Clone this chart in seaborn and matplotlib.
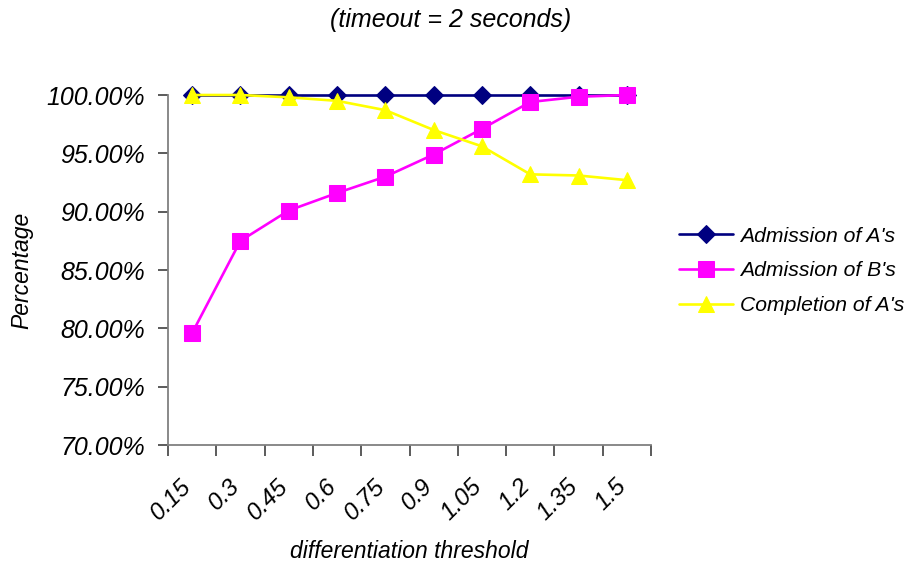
import matplotlib
matplotlib.use("Agg")
import matplotlib.pyplot as plt
import matplotlib.transforms as mtransforms
import seaborn as sns
import pandas as pd
import numpy as np
from matplotlib.ticker import FixedLocator, FuncFormatter

thresholds = ["0.15", "0.3", "0.45", "0.6", "0.75", "0.9", "1.05", "1.2", "1.35", "1.5"]
admission_a = [100.0, 100.0, 100.0, 100.0, 100.0, 100.0, 100.0, 100.0, 100.0, 100.0]
admission_b = [79.6, 87.5, 90.1, 91.6, 93.0, 94.9, 97.1, 99.4, 99.85, 100.0]
completion_a = [100.0, 100.0, 99.8, 99.5, 98.7, 97.0, 95.6, 93.2, 93.1, 92.7]
series_names = ["Admission of A's", "Admission of B's", "Completion of A's"]

sns.set_theme(style="white")
plt.rcParams['font.family'] = ['Liberation Sans', 'DejaVu Sans']
plt.rcParams['text.color'] = 'black'
plt.rcParams['axes.labelcolor'] = 'black'
plt.rcParams['xtick.color'] = 'black'
plt.rcParams['ytick.color'] = 'black'

rows = []
for name, vals in zip(series_names, [admission_a, admission_b, completion_a]):
    for i, v in enumerate(vals):
        rows.append({"x": i, "threshold": thresholds[i], "value": v, "series": name})
df = pd.DataFrame(rows)

fig = plt.figure(figsize=(9.1, 5.65), dpi=100)
ax = fig.add_axes([168/910, 1-445/565, (651-168)/910, (445-95)/565])

palette = {series_names[0]: "#000080", series_names[1]: "#FF00FF", series_names[2]: "#FFFF00"}
markers = {series_names[0]: "D", series_names[1]: "s", series_names[2]: "^"}
sizes = {series_names[0]: 9, series_names[1]: 11.5, series_names[2]: 11.5}

for name in series_names:
    sub = df[df.series == name]
    sns.lineplot(data=sub, x="x", y="value", ax=ax, color=palette[name], marker=markers[name],
                 markersize=sizes[name], markeredgecolor=palette[name], linewidth=1.9,
                 label=name, clip_on=False, zorder=3)

ax.set_xlim(-0.5, 9.5)
ax.set_ylim(70, 100)
ax.yaxis.set_major_locator(FixedLocator(np.arange(70, 100.1, 5)))
ax.yaxis.set_major_formatter(FuncFormatter(lambda v, p: f"{v:.2f}%"))

ax.xaxis.set_major_locator(FixedLocator(np.arange(-0.5, 9.6, 1)))
ax.xaxis.set_major_formatter(FuncFormatter(lambda v, p: ""))
ax.set_xticks(np.arange(0, 10), labels=thresholds, minor=True)

for s in ["top", "right"]:
    ax.spines[s].set_visible(False)
for s in ["left", "bottom"]:
    ax.spines[s].set_color("#808080")
    ax.spines[s].set_linewidth(1.3)

ax.tick_params(axis="y", which="major", direction="out", length=7, width=1.2, color="#404040",
               left=True, labelsize=18, pad=9.5, labelcolor="black")
ax.tick_params(axis="x", which="major", direction="out", length=8, width=1.2, color="#404040",
               bottom=True)
ax.tick_params(axis="x", which="minor", length=0, labelsize=17.5, pad=27, labelcolor="black")
for lab in ax.get_yticklabels():
    lab.set_fontstyle("italic")
offset = mtransforms.ScaledTranslation(-4/100, 0, fig.dpi_scale_trans)
for lab in ax.get_xticklabels(minor=True):
    lab.set_fontstyle("italic")
    lab.set_rotation(45)
    lab.set_ha("right")
    lab.set_va("center")
    lab.set_rotation_mode("anchor")
    lab.set_transform(lab.get_transform() + offset)

ax.set_xlabel("differentiation threshold", fontsize=16.5, fontstyle="italic")
ax.xaxis.set_label_coords(0.5, -(540-445)/350)
ax.set_ylabel("Percentage", fontsize=16.5, fontstyle="italic")
ax.yaxis.set_label_coords(-(168-33)/483, (445-270)/350)
ax.grid(False)

fig.text(451/910, 1-20/565, "(timeout = 2 seconds)", fontsize=18, fontstyle="italic",
         ha="center", va="center")

ax.legend(loc="center left", bbox_to_anchor=(679/910, 1-271/565), bbox_transform=fig.transFigure,
          frameon=False, handlelength=2.55, handletextpad=0.35, labelspacing=0.75,
          borderpad=0, borderaxespad=0, prop={"style": "italic", "size": 15.2})

fig.savefig("out.png", dpi=100)
